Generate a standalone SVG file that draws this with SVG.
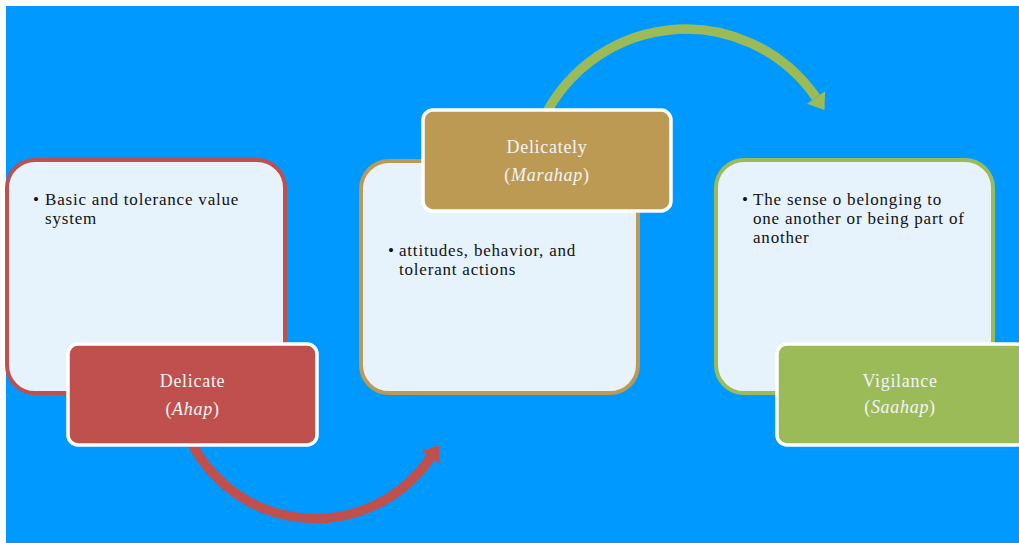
<svg xmlns="http://www.w3.org/2000/svg" width="1019" height="543" viewBox="0 0 1019 543">
<style>
.big{fill:#e6f3fd;stroke-width:4}
.lab{stroke:#ffffff;stroke-width:3.5}
.body{font-family:"Liberation Serif",serif;font-size:17px;letter-spacing:0.8px;fill:#111111}
.lt{font-family:"Liberation Serif",serif;font-size:18px;letter-spacing:0.7px;fill:#f4f4f4;text-anchor:middle}
.arc{fill:none;stroke-width:9.5}
</style>
<rect x="0" y="0" width="1019" height="543" fill="#ffffff"/>
<rect x="6" y="6" width="1013" height="537" fill="#0099ff"/>
<g id="connectors">
<path class="arc" stroke="#c0504d" d="M 182.5 420 A 139 139 0 0 0 430.5 457.5"/>
<polygon fill="#c0504d" points="439,445 439.6,463.7 421.4,451.3"/>
<path class="arc" stroke="#9bbb59" d="M 538.6 130 A 158 158 0 0 1 816 97.5"/>
<polygon fill="#9bbb59" points="824.5,110 825.1,91.3 806.9,103.7"/>
</g>
<g id="node-ahap">
<rect class="big" x="7" y="160" width="278" height="233" rx="28" stroke="#c0504d"/>
<text class="body" x="33" y="205">•</text>
<text class="body" x="45" y="205">Basic and tolerance value</text>
<text class="body" x="45" y="224">system</text>
<rect class="lab" x="68" y="344" width="249" height="101" rx="10" fill="#c0504d"/>
<text class="lt" x="192.5" y="387">Delicate</text>
<text class="lt" x="192.5" y="415">(<tspan font-style="italic">Ahap</tspan>)</text>
</g>
<g id="node-marahap">
<rect class="big" x="361" y="161" width="277" height="232" rx="28" stroke="#bd9a54"/>
<text class="body" x="388" y="256">•</text>
<text class="body" x="399" y="256">attitudes, behavior, and</text>
<text class="body" x="399" y="275">tolerant actions</text>
<rect class="lab" x="423" y="110" width="248" height="101" rx="10" fill="#bd9a54"/>
<text class="lt" x="547" y="153">Delicately</text>
<text class="lt" x="547" y="181">(<tspan font-style="italic">Marahap</tspan>)</text>
</g>
<g id="node-saahap">
<rect class="big" x="716" y="160" width="277" height="233" rx="28" stroke="#9bbb59"/>
<text class="body" x="742" y="205">•</text>
<text class="body" x="753" y="205">The sense o belonging to</text>
<text class="body" x="753" y="224">one another or being part of</text>
<text class="body" x="753" y="243">another</text>
<rect class="lab" x="777" y="344" width="250" height="101" rx="10" fill="#9bbb59"/>
<text class="lt" x="900" y="387">Vigilance</text>
<text class="lt" x="900" y="413">(<tspan font-style="italic">Saahap</tspan>)</text>
</g>
</svg>
